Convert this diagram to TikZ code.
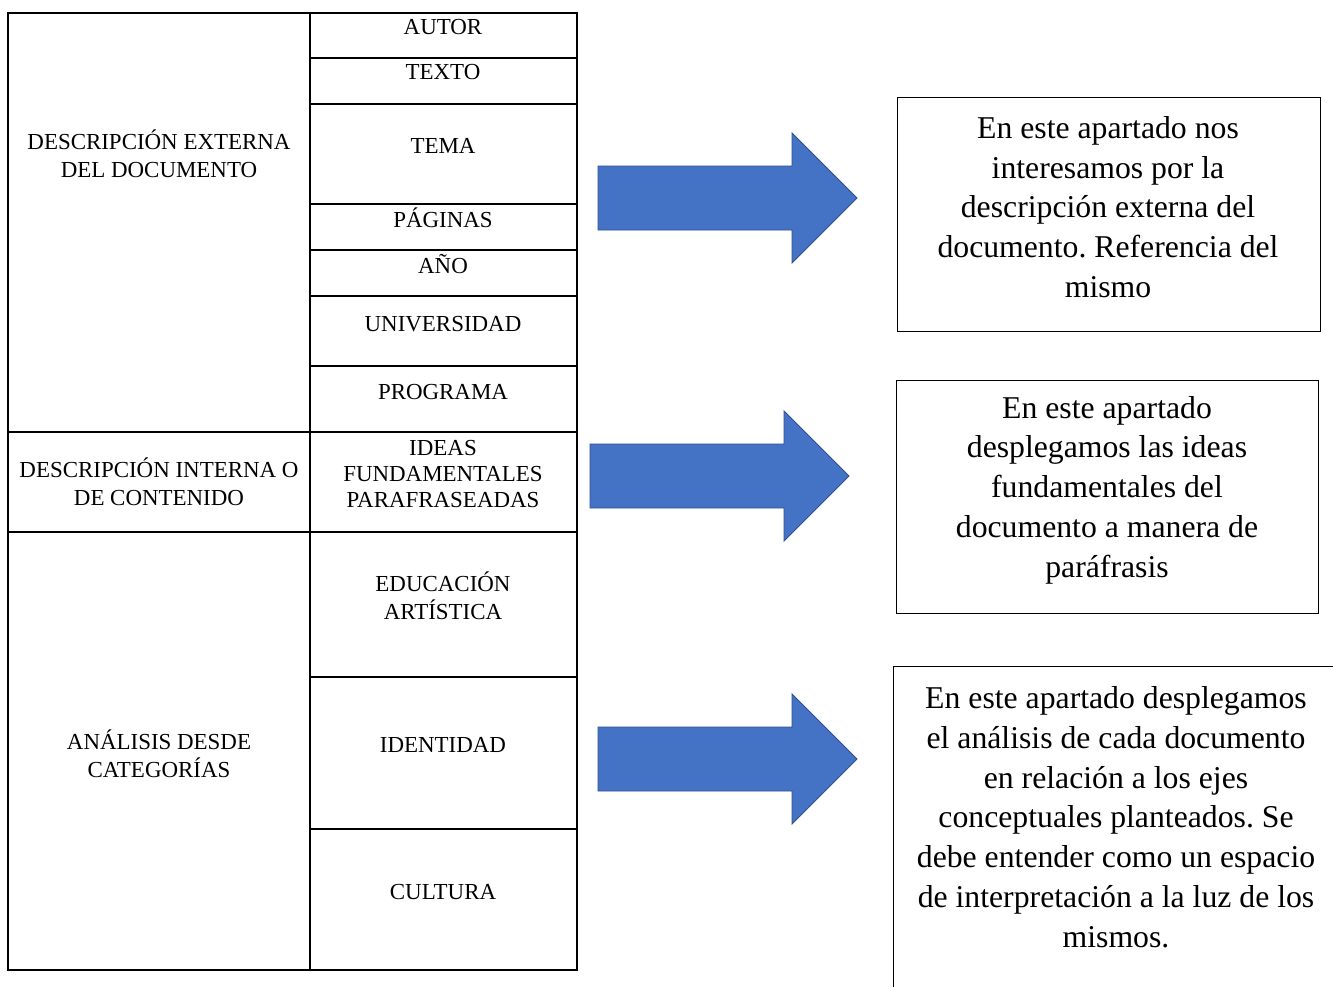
\documentclass[tikz,border=0pt]{standalone}
\usepackage{fontspec}
\setmainfont{Liberation Serif}
\frenchspacing
\definecolor{arrowblue}{HTML}{4472C4}
\definecolor{arrowedge}{HTML}{2F528F}

\begin{document}
\begin{tikzpicture}[
        x=0.75pt, y=-0.75pt,
        cell/.style={align=center, inner sep=0pt, font=\fontsize{17.2}{21}\selectfont},
        note/.style={align=center, inner sep=0pt, font=\fontsize{23.8}{29.8}\selectfont},
        bigarrow/.style={fill=arrowblue, draw=arrowedge, line width=0.7pt}
    ]
    \clip (0,0) rectangle (1333,986);
    \fill[white] (0,0) rectangle (1333,986);

    % Table frame and lines
    \draw[line width=0.9pt] (8,13) rectangle (577,970);
    \draw[line width=1.4pt] (577,13) -- (577,970);
    \draw[line width=0.8pt] (310,13) -- (310,970);
    \foreach \y in {58,104,204,250,296,366,677,829}
        \draw[line width=0.8pt] (310,\y) -- (577,\y);
    \draw[line width=0.8pt] (8,432) -- (577,432);
    \draw[line width=0.8pt] (8,532) -- (577,532);

    % Left column
    \node[cell] (externa) at (159,154) {DESCRIPCIÓN EXTERNA\\DEL DOCUMENTO};
    \node[cell] (interna) at (159,482) {DESCRIPCIÓN INTERNA O\\DE CONTENIDO};
    \node[cell] (analisis) at (159,754) {ANÁLISIS DESDE\\CATEGORÍAS};

    % Right column
    \node[cell] (autor) at (443,27) {AUTOR};
    \node[cell] (texto) at (443,72) {TEXTO};
    \node[cell] (tema) at (443,146) {TEMA};
    \node[cell] (paginas) at (443,218) {PÁGINAS};
    \node[cell] (anio) at (443,264) {AÑO};
    \node[cell] (universidad) at (443,324) {UNIVERSIDAD};
    \node[cell] (programa) at (443,392) {PROGRAMA};
    \node[cell, font=\fontsize{17.2}{19.8}\selectfont] (ideas) at (443,474) {IDEAS\\FUNDAMENTALES\\PARAFRASEADAS};
    \node[cell] (educacion) at (443,596) {EDUCACIÓN\\ARTÍSTICA};
    \node[cell] (identidad) at (443,745) {IDENTIDAD};
    \node[cell] (cultura) at (443,892) {CULTURA};

    % Arrows
    \foreach \x/\y in {598/198, 590/476, 598/759}
        \draw[bigarrow] (\x,\y-32) -- (\x+194,\y-32) -- (\x+194,\y-65)
            -- (\x+259,\y) -- (\x+194,\y+65) -- (\x+194,\y+32) -- (\x,\y+32) -- cycle;

    % Boxes
    \draw[line width=0.6pt] (897,97) rectangle (1320,331);
    \draw[line width=0.6pt] (896,380) rectangle (1318,613);
    \draw[line width=0.6pt] (893,666) rectangle (1345,1000);

    \node[note] (nota1) at (1108,207) {En este apartado nos\\interesamos por la\\descripción externa del\\documento. Referencia del\\mismo};
    \node[note] (nota2) at (1107,490) {En este apartado\\desplegamos las ideas\\fundamentales del\\documento a manera de\\paráfrasis};
    \node[note] (nota3) at (1116,817) {En este apartado desplegamos\\el análisis de cada documento\\en relación a los ejes\\conceptuales planteados. Se\\debe entender como un espacio\\de interpretación a la luz de los\\mismos.};

\end{tikzpicture}
\end{document}
